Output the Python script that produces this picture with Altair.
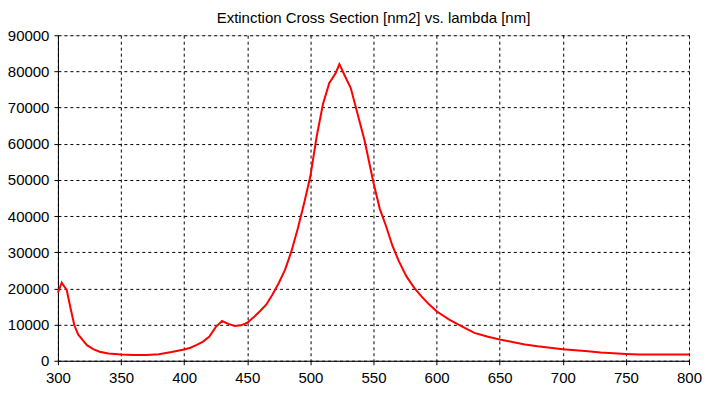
import altair as alt
import pandas as pd

lam = [300, 303, 307, 310, 313, 316, 320, 323, 328, 333, 340, 350, 360, 370, 380, 390,
       400, 405, 410, 415, 420, 425, 430, 435, 440, 445, 450, 455, 460, 465, 470, 475,
       480, 485, 490, 495, 500, 505, 510, 515, 520, 523, 527, 532, 537, 543, 550, 555,
       560, 565, 570, 576, 582, 588, 594, 600, 610, 620, 630, 640, 650, 660, 670, 680,
       690, 700, 710, 720, 730, 740, 750, 760, 770, 780, 790, 800]
ext = [18800, 21600, 19500, 14500, 9800, 7300, 5600, 4300, 3200, 2500, 2000, 1700, 1600, 1600, 1800, 2400,
       3100, 3600, 4400, 5300, 6700, 9300, 11000, 10200, 9600, 9800, 10500, 12000, 13700, 15500, 18300, 21500,
       25200, 30300, 36500, 43500, 51000, 62000, 71000, 76800, 79500, 82000, 79000, 75400, 68800, 60800, 49200, 42000,
       37200, 31800, 27600, 23400, 20300, 17800, 15600, 13700, 11400, 9500, 7700, 6700, 5900, 5200, 4500, 4000,
       3600, 3200, 2900, 2600, 2300, 2100, 1900, 1700, 1700, 1700, 1700, 1700]

x_ticks = list(range(300, 801, 50))
y_ticks = list(range(0, 90001, 10000))

df = pd.DataFrame({"lam": lam, "ext": ext})

FONT = "Liberation Sans"
axis_common = dict(
    grid=True, gridColor="black", gridDash=[3, 3], gridWidth=1, gridOpacity=1,
    domainColor="black", tickColor="black", tickSize=4,
    labelFont=FONT, labelFontSize=15, labelColor="#000000", title=None,
    labelFlush=False, labelOverlap=False,
)

chart = alt.Chart(df, title=alt.Title(
    "Extinction Cross Section [nm2] vs. lambda [nm]",
    font=FONT, fontSize=15, fontWeight="normal", color="black",
    anchor="middle", offset=2,
)).mark_line(color="#ff0000", strokeWidth=2).encode(
    x=alt.X("lam:Q", scale=alt.Scale(domain=[300, 800], nice=False, zero=False),
            axis=alt.Axis(values=x_ticks, labelPadding=6, **axis_common)),
    y=alt.Y("ext:Q", scale=alt.Scale(domain=[0, 90000], nice=False),
            axis=alt.Axis(values=y_ticks, labelPadding=5, format="d", **axis_common)),
).properties(
    width=632, height=326,
    autosize=alt.AutoSizeParams(type="none"),
    padding={"left": 50, "top": 27, "right": 13, "bottom": 28},
).configure_view(stroke="black", strokeWidth=1).configure(background="white")

chart.save("out.html", embed_options={"renderer": "svg", "actions": False})
